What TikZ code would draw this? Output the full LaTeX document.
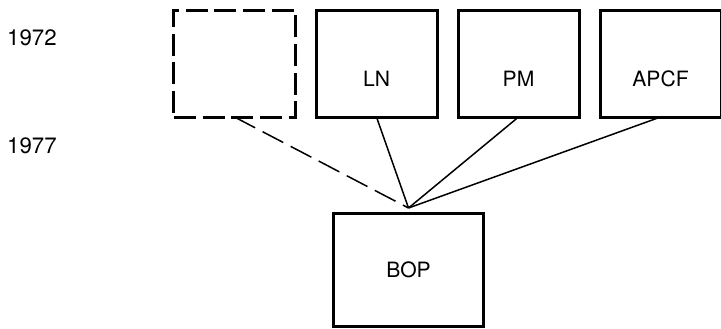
\documentclass[tikz,border=0pt]{standalone}
\usepackage{fontspec}
\setmainfont{TeX Gyre Heros}
\usetikzlibrary{positioning}

\begin{document}
\begin{tikzpicture}[
        x=0.03cm, y=-0.03cm,
        box/.style={draw, line width=0.09cm, outer sep=0pt, minimum width=3.63cm, minimum height=3.21cm, text centered, font=\fontsize{18}{20}\selectfont},
        topbox/.style={box, text height=1.4cm, text depth=0pt},
        ghostbox/.style={topbox, dash pattern=on 0.66cm off 0.2cm},
        basebox/.style={box, minimum width=4.47cm, minimum height=3.39cm},
        year/.style={font=\fontsize{19}{21}\selectfont},
        link/.style={line width=0.045cm},
        ghostlink/.style={link, dash pattern=on 0.7cm off 0.25cm},
        node distance=0.63cm
    ]
        \useasboundingbox (0,0) rectangle (721,328);

        % Years
        \node[year] (y72) at (32,38) {1972};
        \node[year] (y77) at (32,146) {1977};

        % Boxes
        \node[ghostbox] (ghost) at (234.5,63.5) {};
        \node[topbox, right=of ghost] (ln) {LN};
        \node[topbox, right=of ln] (pm) {PM};
        \node[topbox, right=of pm] (apcf) {APCF};
        \node[basebox] (bop) at (408.5,269.5) {BOP};
        \coordinate (hub) at ([yshift=0.15cm]bop.north);

        % Lines
        \draw[ghostlink] (ghost.south) -- (hub);
        \draw[link] (ln.south) -- (hub);
        \draw[link] (pm.south) -- (hub);
        \draw[link] (apcf.south) -- (hub);
    \end{tikzpicture}
\end{document}
